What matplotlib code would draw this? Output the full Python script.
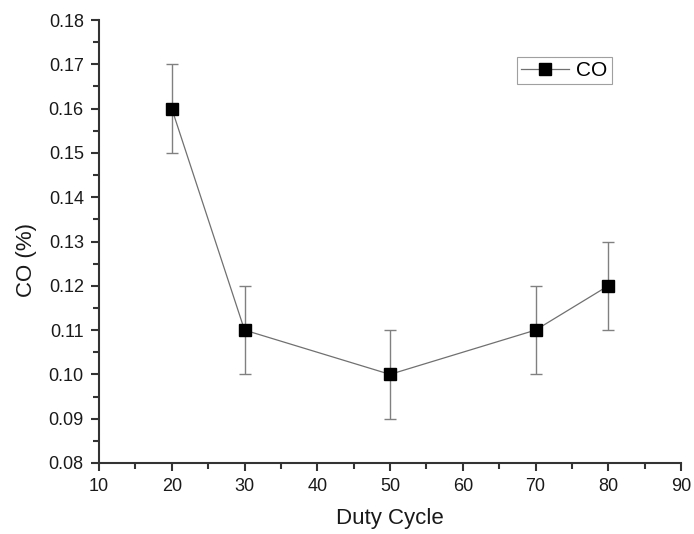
import matplotlib
matplotlib.use('Agg')
import matplotlib.pyplot as plt
from matplotlib.ticker import MultipleLocator, FormatStrFormatter

duty = [20, 30, 50, 70, 80]
co = [0.16, 0.11, 0.10, 0.11, 0.12]
co_err = [0.01, 0.01, 0.01, 0.01, 0.01]

plt.rcParams['font.family'] = ['Liberation Sans', 'DejaVu Sans']

fig = plt.figure(figsize=(6.94, 5.34), dpi=100)
ax = fig.add_axes([0.1427, 0.133, 0.8386, 0.8295])

ax.errorbar(duty, co, yerr=co_err, fmt='none', ecolor='#808080',
            elinewidth=1.0, capsize=4, capthick=1.0, zorder=2)
ax.plot(duty, co, color='#707070', lw=0.9, marker='s', ms=8,
        mfc='black', mec='black', label='CO', zorder=3)

ax.set_xlim(10, 90)
ax.set_ylim(0.08, 0.18)
ax.xaxis.set_major_locator(MultipleLocator(10))
ax.xaxis.set_minor_locator(MultipleLocator(5))
ax.yaxis.set_major_locator(MultipleLocator(0.01))
ax.yaxis.set_minor_locator(MultipleLocator(0.005))
ax.yaxis.set_major_formatter(FormatStrFormatter('%.2f'))

for s in ['top', 'right']:
    ax.spines[s].set_visible(False)
for s in ['left', 'bottom']:
    ax.spines[s].set_linewidth(1.5)
    ax.spines[s].set_color('#333333')

ax.tick_params(which='major', direction='out', length=6, width=1.5,
               labelsize=13, colors='#333333', labelcolor='#1a1a1a', pad=5)
ax.tick_params(which='minor', direction='out', length=4, width=1.5,
               colors='#333333')

ax.set_xlabel('Duty Cycle', fontsize=16, color='#1a1a1a', labelpad=9)
ax.set_ylabel('CO (%)', fontsize=16, color='#1a1a1a')
ax.yaxis.set_label_coords(-0.106, 0.458)

leg = ax.legend(loc='upper left', bbox_to_anchor=(0.718, 0.9165),
                borderaxespad=0, fontsize=15, frameon=True, fancybox=False,
                handlelength=2.3, borderpad=0.2, handletextpad=0.35)
leg.get_frame().set_edgecolor('#888888')
leg.get_frame().set_linewidth(0.8)

fig.savefig('out.png', dpi=100)
